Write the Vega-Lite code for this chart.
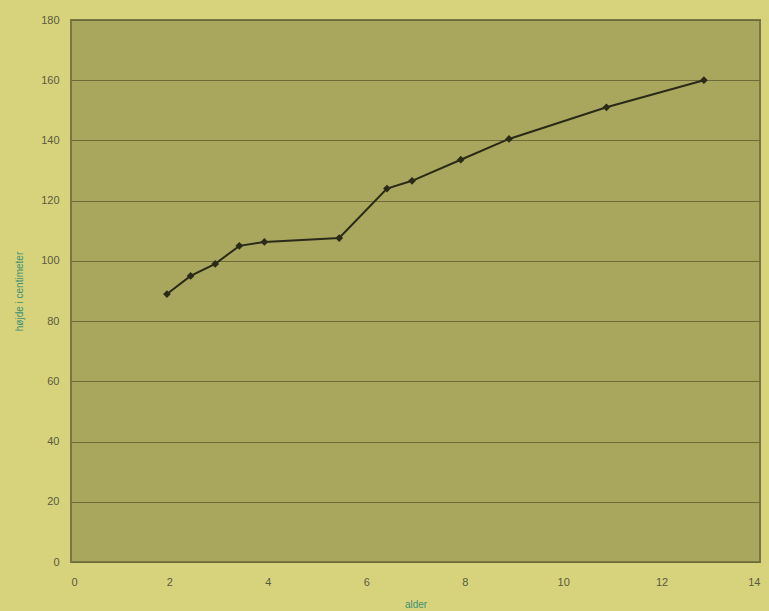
{
  "$schema": "https://vega.github.io/schema/vega-lite/v6.json",
  "autosize": {"type": "none"},
  "padding": {"left": 71, "top": 20, "right": 9, "bottom": 49},
  "width": 689,
  "height": 542,
  "background": "#d7d37c",
  "config": {
    "view": {"fill": "#a9a65e", "stroke": "#7a7840", "strokeWidth": 2},
    "font": "Liberation Sans",
    "axis": {
      "labelFont": "Liberation Sans",
      "labelFontSize": 11,
      "labelColor": "#5a5a40",
      "titleFont": "Liberation Sans",
      "titleFontSize": 10,
      "titleFontWeight": "normal",
      "titleColor": "#3f8f73",
      "domain": false,
      "ticks": false
    }
  },
  "data": {
    "values": [
      {"alder": 1.95, "hojde": 89},
      {"alder": 2.43, "hojde": 95},
      {"alder": 2.93, "hojde": 99},
      {"alder": 3.42, "hojde": 105},
      {"alder": 3.93, "hojde": 106.3},
      {"alder": 5.45, "hojde": 107.6},
      {"alder": 6.42, "hojde": 124},
      {"alder": 6.93, "hojde": 126.6},
      {"alder": 7.92, "hojde": 133.6},
      {"alder": 8.9, "hojde": 140.5},
      {"alder": 10.88, "hojde": 151},
      {"alder": 12.86, "hojde": 160}
    ]
  },
  "mark": {
    "type": "line",
    "color": "#2b2a18",
    "strokeWidth": 2,
    "point": {"shape": "diamond", "size": 60, "filled": true, "color": "#2b2a18"}
  },
  "encoding": {
    "x": {
      "field": "alder",
      "type": "quantitative",
      "title": "alder",
      "scale": {"domain": [0, 14], "nice": false},
      "axis": {"values": [0, 2, 4, 6, 8, 10, 12, 14], "grid": false, "labelPadding": 14, "titlePadding": 12}
    },
    "y": {
      "field": "hojde",
      "type": "quantitative",
      "title": "højde i centimeter",
      "scale": {"domain": [0, 180], "nice": false},
      "axis": {"values": [0, 20, 40, 60, 80, 100, 120, 140, 160, 180], "grid": true, "gridColor": "#6c6a36", "gridWidth": 1.2, "labelPadding": 12, "titlePadding": 16}
    }
  }
}
